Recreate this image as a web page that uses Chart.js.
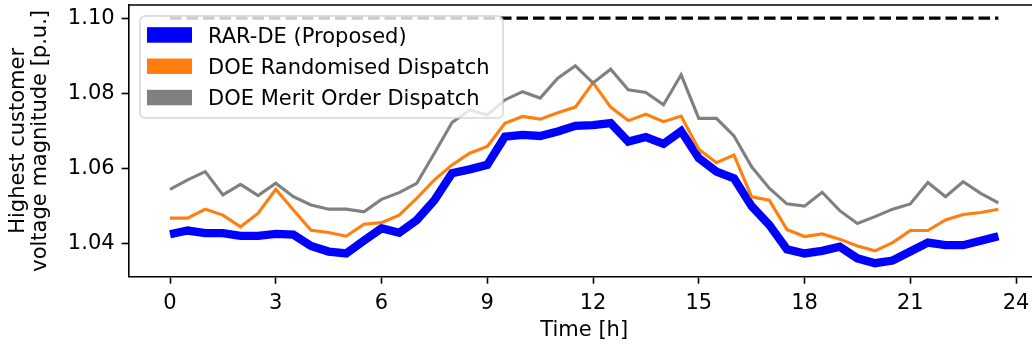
<!DOCTYPE html>
<html>
<head>
<meta charset="utf-8">
<title>Highest customer voltage magnitude</title>
<script src="https://cdn.jsdelivr.net/npm/chart.js@4.4.1/dist/chart.umd.min.js"></script>
<style>
  html, body { margin: 0; padding: 0; background: #fff; overflow: hidden; }
  #wrap { width: 1046px; height: 349px; overflow: hidden; }
</style>
</head>
<body>
<div id="wrap"><canvas id="voltage-chart" width="1046" height="349"></canvas></div>
<script>
// half-hourly time steps [h]
const hours = [0, 0.5, 1, 1.5, 2, 2.5, 3, 3.5, 4, 4.5, 5, 5.5, 6, 6.5, 7, 7.5,
    8, 8.5, 9, 9.5, 10, 10.5, 11, 11.5, 12, 12.5, 13, 13.5, 14, 14.5, 15, 15.5,
    16, 16.5, 17, 17.5, 18, 18.5, 19, 19.5, 20, 20.5, 21, 21.5, 22, 22.5, 23, 23.5];

const rarDe = [1.0424, 1.0434, 1.0427, 1.0427, 1.0420, 1.0420, 1.0425, 1.0423,
    1.0393, 1.0378, 1.0373, 1.0407, 1.0440, 1.0428, 1.0462, 1.0515,
    1.0587, 1.0597, 1.0609, 1.0684, 1.0689, 1.0686, 1.0698, 1.0713,
    1.0715, 1.0720, 1.0671, 1.0683, 1.0665, 1.0699, 1.0627, 1.0591,
    1.0573, 1.0499, 1.0449, 1.0384, 1.0373, 1.0380, 1.0391, 1.0360,
    1.0347, 1.0354, 1.0378, 1.0402, 1.0395, 1.0395, 1.0407, 1.0419];

const doeRandomised = [1.0467, 1.0467, 1.0491, 1.0475, 1.0444, 1.0480, 1.0544, 1.0489,
    1.0435, 1.0429, 1.0419, 1.0451, 1.0455, 1.0475, 1.0520, 1.0569,
    1.0609, 1.0640, 1.0658, 1.0720, 1.0738, 1.0731, 1.0748, 1.0763,
    1.0828, 1.0763, 1.0727, 1.0744, 1.0724, 1.0739, 1.0651, 1.0615,
    1.0635, 1.0524, 1.0515, 1.0437, 1.0418, 1.0425, 1.0411, 1.0393,
    1.0380, 1.0402, 1.0434, 1.0434, 1.0462, 1.0477, 1.0482, 1.0491];

const doeMeritOrder = [1.0544, 1.0569, 1.0591, 1.0529, 1.0557, 1.0527, 1.0560, 1.0524,
    1.0502, 1.0491, 1.0491, 1.0484, 1.0517, 1.0535, 1.0560, 1.0640,
    1.0722, 1.0755, 1.0742, 1.0782, 1.0804, 1.0787, 1.0840, 1.0873,
    1.0827, 1.0864, 1.0809, 1.0802, 1.0769, 1.0849, 1.0733, 1.0733,
    1.0686, 1.0604, 1.0547, 1.0505, 1.0499, 1.0536, 1.0487, 1.0453,
    1.0471, 1.0491, 1.0505, 1.0562, 1.0524, 1.0564, 1.0533, 1.0508];

const voltageLimit = 1.10;

const xTicks = [0, 3, 6, 9, 12, 15, 18, 21, 24];
const yTicks = [1.04, 1.06, 1.08, 1.10];

const seriesNames = ['RAR-DE (Proposed)', 'DOE Randomised Dispatch', 'DOE Merit Order Dispatch'];
const seriesColors = ['#0000ff', '#ff7f0e', '#808080'];

const FONT = 'DejaVu Sans';
Chart.defaults.font.family = FONT;
Chart.defaults.font.size = 21;
Chart.defaults.color = '#000';

function toPoints(values) {
    return hours.map((h, i) => ({ x: h, y: values[i] }));
}

// closes the box: top spine
const frame = {
    id: 'frame',
    afterDatasetsDraw(chart) {
        const { ctx, chartArea } = chart;
        ctx.save();
        ctx.strokeStyle = '#000';
        ctx.lineWidth = 1.6;
        ctx.beginPath();
        ctx.moveTo(chartArea.left, chartArea.top);
        ctx.lineTo(chartArea.right, chartArea.top);
        ctx.stroke();
        ctx.restore();
    }
};

// legend drawn inside the plot, upper left
const insideLegend = {
    id: 'insideLegend',
    afterDraw(chart) {
        const ctx = chart.ctx;
        const bx = 140, by = 16, bw = 363, bh = 102, r = 5;
        ctx.save();
        ctx.beginPath();
        ctx.roundRect(bx, by, bw, bh, r);
        ctx.fillStyle = 'rgba(255,255,255,0.8)';
        ctx.fill();
        ctx.strokeStyle = 'rgba(204,204,204,0.8)';
        ctx.lineWidth = 1.5;
        ctx.stroke();

        ctx.font = '21px "' + FONT + '"';
        ctx.textBaseline = 'alphabetic';
        ctx.textAlign = 'left';
        seriesNames.forEach((name, i) => {
            const base = 42.7 + i * 31.3;
            ctx.fillStyle = seriesColors[i];
            ctx.fillRect(147, base - 15.5, 45, 15.5);
            ctx.fillStyle = '#000';
            ctx.fillText(name, 208, base);
        });
        ctx.restore();
    }
};

const ctx = document.getElementById('voltage-chart').getContext('2d');
const voltageChart = new Chart(ctx, {
    type: 'line',
    data: {
        datasets: [
            {
                label: seriesNames[0],
                data: toPoints(rarDe),
                borderColor: seriesColors[0],
                borderWidth: 8.3,
                order: 3
            },
            {
                label: seriesNames[1],
                data: toPoints(doeRandomised),
                borderColor: seriesColors[1],
                borderWidth: 3.1,
                order: 2
            },
            {
                label: seriesNames[2],
                data: toPoints(doeMeritOrder),
                borderColor: seriesColors[2],
                borderWidth: 3.1,
                order: 1
            },
            {
                label: 'Voltage limit',
                data: hours.map(h => ({ x: h, y: voltageLimit })),
                borderColor: '#000',
                borderWidth: 3.1,
                borderDash: [11.5, 5],
                order: 0
            }
        ]
    },
    options: {
        responsive: false,
        animation: false,
        events: [],
        elements: {
            point: { radius: 0 },
            line: { tension: 0, fill: false, borderCapStyle: 'butt', borderJoinStyle: 'miter' }
        },
        layout: {
            padding: { left: 0, top: 5, right: 6.2, bottom: 0 }
        },
        plugins: {
            legend: { display: false },
            tooltip: { enabled: false }
        },
        scales: {
            x: {
                type: 'linear',
                min: -1.175,
                max: 24.675,
                afterBuildTicks: scale => {
                    scale.ticks = xTicks.map(v => ({ value: v }));
                },
                afterFit: scale => {
                    scale.height = 72.3;
                    scale.paddingLeft = 0;
                    scale.paddingRight = 0;
                },
                grid: {
                    drawOnChartArea: false,
                    drawTicks: true,
                    tickLength: 7,
                    tickWidth: 1.6,
                    tickColor: '#000'
                },
                border: { display: true, color: '#000', width: 1.6 },
                ticks: {
                    padding: 7,
                    maxRotation: 0,
                    autoSkip: false,
                    color: '#000',
                    callback: v => String(v)
                },
                title: {
                    display: true,
                    text: 'Time [h]',
                    color: '#000',
                    padding: { top: 0, bottom: 5.4 }
                }
            },
            y: {
                min: 1.0311,
                max: 1.1035,
                afterBuildTicks: scale => {
                    scale.ticks = yTicks.map(v => ({ value: v }));
                },
                afterFit: scale => {
                    scale.width = 128.6;
                    scale.paddingTop = 0;
                    scale.paddingBottom = 0;
                },
                grid: {
                    drawOnChartArea: false,
                    drawTicks: true,
                    tickLength: 7,
                    tickWidth: 1.6,
                    tickColor: '#000'
                },
                border: { display: true, color: '#000', width: 1.6 },
                ticks: {
                    padding: 7,
                    autoSkip: false,
                    color: '#000',
                    callback: v => v.toFixed(2)
                },
                title: {
                    display: true,
                    text: ['Highest customer', 'voltage magnitude [p.u.]'],
                    color: '#000',
                    font: { size: 21, lineHeight: 1.05 },
                    padding: { top: 7.7, bottom: 0 }
                }
            }
        }
    },
    plugins: [frame, insideLegend]
});
</script>
</body>
</html>
